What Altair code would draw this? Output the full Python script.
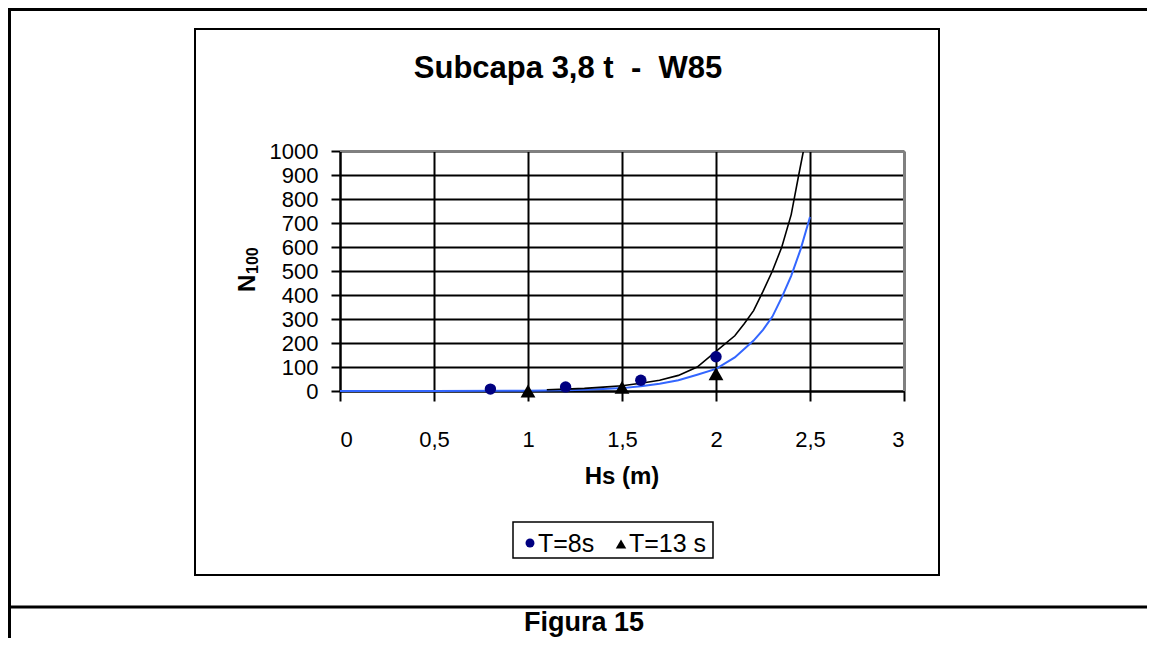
import altair as alt
import pandas as pd

# ---- data ----
hs_t8 = [0.8, 1.2, 1.6, 2.0]
n_t8 = [8, 17, 45, 143]
hs_t13 = [1.0, 1.5, 2.0]
n_t13 = [0, 15, 72]

fit_black_hs = [1.1, 1.2, 1.3, 1.4, 1.5, 1.6, 1.7, 1.8, 1.9, 2.0, 2.1, 2.15, 2.2, 2.25, 2.3, 2.35, 2.4, 2.44, 2.465]
fit_black_n = [5, 8, 11, 16, 22, 32, 45, 65, 100, 165, 230, 280, 335, 415, 500, 600, 735, 900, 1000]
fit_blue_hs = [0, 0.5, 1.0, 1.2, 1.3, 1.4, 1.5, 1.6, 1.7, 1.8, 1.9, 2.0, 2.1, 2.15, 2.2, 2.25, 2.3, 2.35, 2.4, 2.45, 2.5]
fit_blue_n = [0, 0, 1, 3, 5, 8, 12, 20, 30, 45, 68, 92, 140, 175, 210, 255, 310, 390, 480, 590, 725]

x_ticks = [0, 0.5, 1, 1.5, 2, 2.5, 3]
y_ticks = [0, 100, 200, 300, 400, 500, 600, 700, 800, 900, 1000]

title_text = "Subcapa 3,8 t \u00a0-\u00a0 W85"
x_title = "Hs (m)"
y_title_main = "N"
y_title_sub = "100"
legend_labels = ["T=8s", "T=13 s"]
caption = "Figura 15"

FONT = "Liberation Sans"
W, H = 564, 240

df8 = pd.DataFrame({"hs": hs_t8, "n": n_t8})
df13 = pd.DataFrame({"hs": hs_t13, "n": n_t13})
dfb = pd.DataFrame({"hs": fit_black_hs, "n": fit_black_n})
dfl = pd.DataFrame({"hs": fit_blue_hs, "n": fit_blue_n})
one = pd.DataFrame({"k": [0]})

x_enc = alt.X("hs:Q", scale=alt.Scale(domain=[0, 3], nice=False, zero=False),
              axis=alt.Axis(values=x_ticks, title=None, grid=True,
                            labelExpr="replace(toString(datum.value), '.', ',')",
                            tickSize=10, labelPadding=28, labelFontSize=22))
y_enc = alt.Y("n:Q", scale=alt.Scale(domain=[0, 1000], nice=False),
              axis=alt.Axis(values=y_ticks, title=None, grid=True, format="d",
                            tickSize=9, labelPadding=13, labelFontSize=22))

blue = alt.Chart(dfl).mark_line(color="#3366ff", strokeWidth=2).encode(x=x_enc, y=y_enc)
black = alt.Chart(dfb).mark_line(color="black", strokeWidth=1.6).encode(x=x_enc, y=y_enc)
pts8 = alt.Chart(df8).mark_point(shape="circle", filled=True, size=130, color="#000080", opacity=1).encode(x=x_enc, y=y_enc)
pts13 = alt.Chart(df13).mark_point(shape="triangle-up", filled=True, size=220, color="black", opacity=1).encode(x=x_enc, y=y_enc)

def rule(x, y, x2=None, y2=None, color="black", sw=2):
    enc = {"x": alt.value(x), "y": alt.value(y)}
    if x2 is not None:
        enc["x2"] = alt.value(x2)
    if y2 is not None:
        enc["y2"] = alt.value(y2)
    return alt.Chart(one).mark_rule(color=color, strokeWidth=sw).encode(**enc)

def text(t, x, y, size, bold=False, align="left", angle=0):
    kw = dict(text=t, font=FONT, fontSize=size, align=align, baseline="alphabetic", color="black")
    if bold:
        kw["fontWeight"] = "bold"
    if angle:
        kw["angle"] = angle
    return alt.Chart(one).mark_text(**kw).encode(x=alt.value(x), y=alt.value(y))

# plot border (grey, top & right)
border_top = rule(0, 0, x2=W, color="#808080", sw=2)
border_right = rule(W, 0, y2=H, color="#808080", sw=2)

# outer page frame
outer_top = rule(-330.5, -141.5, x2=810, sw=3)
outer_left = rule(-330.5, -143, y2=490, sw=3)
separator = rule(-332, 456, x2=810, sw=3)

# inner chart frame
inner = alt.Chart(one).mark_rect(fill=None, stroke="black", strokeWidth=2).encode(
    x=alt.value(-145), x2=alt.value(599), y=alt.value(-122), y2=alt.value(424))

title = text(title_text, 228, -72.7, 31, bold=True, align="center")
xt = text(x_title, 282, 333, 24, bold=True, align="center")
yt1 = text(y_title_main, -85, 141, 24, bold=True, angle=270)
yt2 = text(y_title_sub, -82, 123, 16, bold=True, angle=270)

# legend
leg_box = alt.Chart(one).mark_rect(fill="white", stroke="black", strokeWidth=1.5).encode(
    x=alt.value(173), x2=alt.value(373), y=alt.value(371), y2=alt.value(407))
leg_c = alt.Chart(one).mark_point(shape="circle", filled=True, size=80, color="#000080", opacity=1).encode(
    x=alt.value(190), y=alt.value(392))
leg_t = alt.Chart(one).mark_point(shape="triangle-up", filled=True, size=110, color="black", opacity=1).encode(
    x=alt.value(281), y=alt.value(393))
leg_l1 = text(legend_labels[0], 198, 400.5, 25)
leg_l2 = text(legend_labels[1], 289, 400.5, 25)

cap = text(caption, 244, 480, 27, bold=True, align="center")

chart = alt.layer(
    blue, black, pts8, pts13, border_top, border_right,
    outer_top, outer_left, separator, inner, title, xt, yt1, yt2,
    leg_box, leg_c, leg_t, leg_l1, leg_l2, cap
).properties(
    width=W, height=H,
    autosize=alt.AutoSizeParams(type="none"),
    padding={"left": 332, "top": 143, "right": 243, "bottom": 247},
    background="white",
).configure_view(stroke=None).configure_axis(
    domainColor="black", domainWidth=2, tickColor="black", tickWidth=2,
    gridColor="black", gridWidth=2, gridOpacity=1,
    labelFont=FONT, labelColor="black",
)

chart.save("out.html", embed_options={"renderer": "svg", "actions": False})
